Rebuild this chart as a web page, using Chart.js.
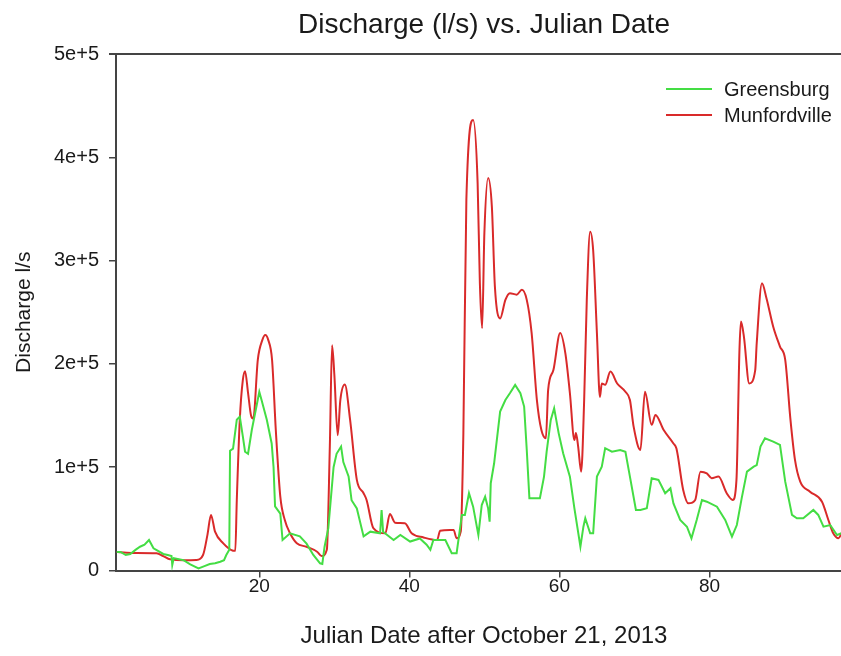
<!DOCTYPE html>
<html lang="en">

<head>
    <meta charset="UTF-8" />
    <title>Discharge (l/s) vs. Julian Date</title>
    <script src="https://cdn.jsdelivr.net/npm/chart.js"></script>
    <style>
        body { margin: 0; background: #fff; }
        #wrap { width: 841px; height: 656px; overflow: hidden; }
    </style>
</head>

<body>
    <div id="wrap">
        <canvas id="grafica" width="1000" height="656"></canvas>
    </div>

    <script>
        // Greensburg (green)
        const greensburgDay = [
            1.0, 1.5, 2.2, 2.8, 3.5, 4.1, 4.7, 5.3, 5.9, 6.5, 7.2, 7.8, 8.3, 8.4, 8.6, 9.9, 10.8, 11.9, 12.6, 13.4,
            14.1, 14.8, 15.3, 15.6, 16.0, 16.1, 16.5, 17.0, 17.4, 17.8, 18.1, 18.5, 19.0, 19.65, 20.0, 20.3, 21.0, 21.65, 21.9, 22.1,
            22.8, 23.1, 24.1, 25.4, 26.3, 27.2, 28.1, 28.4, 28.7, 29.2, 29.9, 30.3, 30.9, 31.2, 31.9, 32.3, 33.0, 33.9, 34.8, 36.1,
            36.3, 36.5, 37.9, 38.8, 40.1, 41.4, 42.3, 42.8, 43.2, 44.8, 45.65, 46.3, 47.0, 47.4, 47.95, 48.5, 49.2, 49.65, 50.1, 50.5,
            50.7, 50.85, 51.3, 52.1, 52.8, 53.4, 54.1, 54.8, 55.3, 55.65, 56.0, 57.4, 57.95, 58.3, 58.85, 59.3, 59.9, 60.5, 61.4, 62.0,
            62.8, 63.2, 63.45, 64.1, 64.5, 65.0, 65.65, 66.1, 67.0, 68.1, 68.8, 69.4, 70.2, 70.8, 71.65, 72.3, 73.2, 74.1, 74.8, 75.2,
            76.1, 77.0, 77.6, 78.3, 79.0, 79.65, 81.0, 82.1, 83.0, 83.65, 84.3, 85.0, 85.9, 86.3, 86.8, 87.4, 88.5, 89.4, 90.1, 91.0,
            91.65, 92.5, 93.85, 94.5, 95.2, 96.1, 97.0, 97.6
        ];
        const greensburgFlow = [
            18000, 18000, 15000, 16000, 20000, 23000, 25000, 29500, 21500, 19000, 16000, 15000, 14000, 5300, 12000, 10000, 6000, 2100, 4000, 6300,
            7000, 8500, 10000, 15000, 20000, 116000, 118000, 146000, 149000, 130000, 115000, 113000, 136000, 160000, 173000, 165000, 146000, 123000, 100000, 62000,
            55000, 29500, 36000, 33000, 26000, 15000, 7000, 6300, 23000, 41000, 100000, 113000, 120000, 105000, 91000, 68000, 60000, 33000, 37600, 36000,
            58600, 37600, 29500, 34400, 28000, 31000, 25000, 20000, 29500, 29500, 16700, 16700, 53800, 53800, 74800, 61800, 34400, 63400, 71500, 60200,
            47300, 84500, 103800, 153800, 165000, 171600, 179700, 171600, 158700, 116700, 70000, 70000, 90900, 115000, 145800, 157000, 133000, 113500, 90900, 60200,
            23000, 42400, 50600, 36000, 36000, 90900, 100500, 118400, 115000, 116700, 115000, 90900, 58600, 58600, 60200, 89300, 87700, 74800, 79600, 65000,
            48900, 42400, 31200, 48900, 68300, 66600, 61800, 48900, 32700, 44000, 70000, 95700, 100500, 102000, 120000, 128000, 124800, 121600, 86000, 53800,
            50600, 50600, 58600, 53800, 42400, 44000, 34400, 36000
        ];

        // Munfordville (red)
        const munfordvilleDay = [
            1.0, 1.5, 3.0, 6.3, 7.2, 8.1, 10.0, 11.6, 12.5, 13.1, 13.56, 14.1, 15.2, 16.5, 16.8, 17.0, 17.4, 17.8, 18.1, 18.5,
            18.9, 19.2, 19.8, 20.4, 20.8, 21.2, 21.7, 22.2, 22.8, 23.4, 24.1, 25.0, 26.3, 27.7, 28.3, 29.0, 29.4, 29.7, 30.0, 30.45,
            30.8, 31.4, 32.1, 33.0, 33.9, 34.3, 35.2, 36.8, 37.4, 38.1, 39.4, 40.3, 41.9, 43.7, 44.1, 45.4, 45.9, 46.3, 46.85, 47.2,
            47.6, 48.5, 49.1, 49.4, 49.7, 50.0, 50.5, 51.0, 51.4, 52.1, 52.8, 53.4, 54.3, 55.0, 55.65, 56.3, 57.0, 57.6, 58.2, 58.5,
            59.2, 60.1, 60.8, 61.4, 62.0, 62.2, 62.5, 62.9, 63.3, 63.65, 64.1, 64.5, 65.0, 65.4, 65.65, 66.1, 66.8, 67.7, 68.8, 69.4,
            69.9, 70.8, 71.4, 72.3, 72.8, 73.9, 75.2, 75.6, 76.5, 77.2, 78.1, 78.8, 79.65, 80.3, 81.2, 82.3, 83.1, 83.6, 84.0, 84.2,
            84.6, 85.3, 86.1, 86.3, 87.0, 87.6, 88.5, 89.4, 90.1, 90.8, 91.4, 92.1, 93.4, 95.0, 95.85, 96.5, 97.2, 97.6
        ];
        const munfordvilleFlow = [
            18000, 17600, 17000, 16700, 14000, 10800, 10000, 10200, 15000, 35000, 53800, 37600, 26300, 19200, 19000, 68000, 146000, 184000, 193000, 172000,
            150000, 147000, 204000, 223000, 228000, 223000, 204000, 136000, 71500, 48900, 36000, 26300, 23000, 18200, 14000, 20000, 120000, 218000, 190000, 131000,
            165000, 180000, 146000, 87700, 74800, 68300, 41000, 36000, 54700, 46300, 45700, 36000, 32000, 29500, 38500, 39200, 39200, 31200, 37600, 133000,
            359000, 436000, 375000, 278000, 234600, 326600, 380000, 352000, 275000, 244000, 262000, 268500, 267000, 271700, 262000, 229800, 165000, 136000, 128000, 174800,
            194000, 229800, 210000, 171600, 126400, 133000, 120000, 95700, 165000, 262000, 328000, 310000, 229800, 168000, 181000, 179700, 192600, 181000, 173000, 165000,
            139000, 116700, 173000, 141000, 150600, 136000, 123000, 118000, 78000, 65000, 68300, 95700, 94000, 89300, 90900, 74800, 68300, 87700, 213600, 241000,
            226000, 181000, 194000, 220000, 278000, 263600, 236000, 216800, 203900, 145800, 107000, 86000, 76300, 66600, 48900, 36000, 31200, 36000
        ];

        const xTickValues = [20, 40, 60, 80];
        const yTickLabels = ['0', '1e+5', '2e+5', '3e+5', '4e+5', '5e+5'];

        const FUENTE = '"Liberation Sans", Arial, sans-serif';
        const VERDE = '#44dd44';
        const ROJO = '#d92a2a';
        const EJE = '#444';

        function puntos(xs, ys) {
            return xs.map((x, i) => ({ x, y: ys[i] }));
        }

        // top frame line, title and legend drawn on the canvas
        const marco = {
            id: 'marco',
            afterDraw(chart) {
                const { ctx, chartArea } = chart;
                ctx.save();
                ctx.strokeStyle = EJE;
                ctx.lineWidth = 2;
                ctx.beginPath();
                ctx.moveTo(chartArea.left - 7, chartArea.top);
                ctx.lineTo(chartArea.right, chartArea.top);
                ctx.stroke();

                ctx.fillStyle = '#1a1a1a';
                ctx.textAlign = 'center';
                ctx.textBaseline = 'alphabetic';
                ctx.font = '28px ' + FUENTE;
                ctx.fillText('Discharge (l/s) vs. Julian Date', (chartArea.left + chartArea.right) / 2, 33);

                const leyenda = [['Greensburg', VERDE, 89], ['Munfordville', ROJO, 115]];
                ctx.textAlign = 'left';
                ctx.font = '20px ' + FUENTE;
                leyenda.forEach(([txt, col, y]) => {
                    ctx.strokeStyle = col;
                    ctx.lineWidth = 2;
                    ctx.beginPath();
                    ctx.moveTo(666, y);
                    ctx.lineTo(712, y);
                    ctx.stroke();
                    ctx.fillStyle = '#1a1a1a';
                    ctx.fillText(txt, 724, y + 7);
                });
                ctx.restore();
            }
        };

        const ctx = document.getElementById('grafica').getContext('2d');
        new Chart(ctx, {
            type: 'line',
            data: {
                datasets: [{
                    label: 'Greensburg',
                    data: puntos(greensburgDay, greensburgFlow),
                    borderColor: VERDE,
                    borderWidth: 2,
                    pointRadius: 0,
                    tension: 0
                }, {
                    label: 'Munfordville',
                    data: puntos(munfordvilleDay, munfordvilleFlow),
                    borderColor: ROJO,
                    borderWidth: 2,
                    pointRadius: 0,
                    cubicInterpolationMode: 'monotone'
                }]
            },
            options: {
                responsive: false,
                animation: false,
                devicePixelRatio: 1,
                layout: { padding: { top: 54, right: 148, left: 0, bottom: 0 } },
                plugins: {
                    legend: { display: false },
                    title: { display: false },
                    tooltip: { enabled: false }
                },
                scales: {
                    x: {
                        type: 'linear',
                        min: 0.9,
                        max: 99.0,
                        afterBuildTicks: s => { s.ticks = xTickValues.map(v => ({ value: v })); },
                        afterFit: s => { s.height = 85.5; },
                        ticks: { color: '#1a1a1a', font: { family: FUENTE, size: 19 }, padding: -2, maxRotation: 0, autoSkip: false },
                        grid: { drawOnChartArea: false, drawTicks: true, tickLength: 7, color: EJE, lineWidth: 1.5 },
                        border: { display: true, color: EJE, width: 2 },
                        title: {
                            display: true,
                            text: 'Julian Date after October 21, 2013',
                            color: '#1a1a1a',
                            font: { family: FUENTE, size: 24 },
                            padding: { top: 0, bottom: 5 }
                        }
                    },
                    y: {
                        min: 0,
                        max: 500000,
                        afterFit: s => { s.width = 116; },
                        ticks: {
                            stepSize: 100000,
                            color: '#1a1a1a',
                            font: { family: FUENTE, size: 20 },
                            padding: 10,
                            callback: (v, i) => yTickLabels[i]
                        },
                        grid: { drawOnChartArea: false, drawTicks: true, tickLength: 7, color: EJE, lineWidth: 1.5 },
                        border: { display: true, color: EJE, width: 2 },
                        title: {
                            display: true,
                            text: 'Discharge l/s',
                            color: '#1a1a1a',
                            font: { family: FUENTE, size: 21 },
                            padding: { top: 12, bottom: 0 }
                        }
                    }
                }
            },
            plugins: [marco]
        });
    </script>
</body>

</html>
